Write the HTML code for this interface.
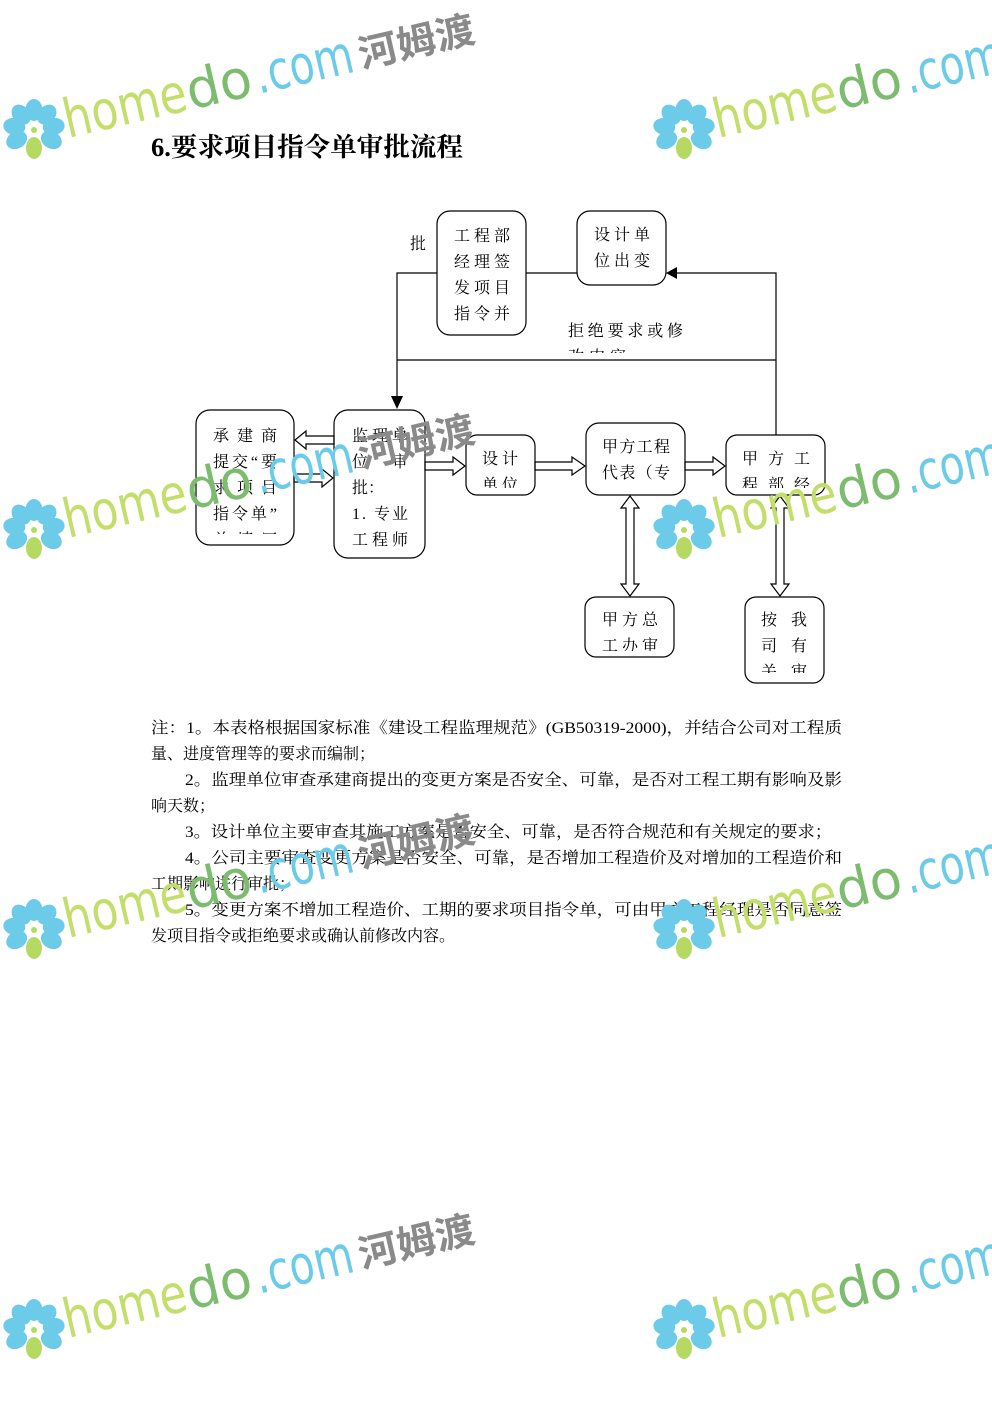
<!DOCTYPE html>
<html><head><meta charset="utf-8"><style>
html,body{margin:0;padding:0;background:#fff}
svg{display:block}
text{font-family:"Liberation Serif","Noto Serif CJK SC","Noto Sans CJK SC",serif}
.wm text{font-family:"DejaVu Sans","Liberation Sans","Noto Sans CJK SC",sans-serif}
</style></head><body>
<svg width="992" height="1403" viewBox="0 0 992 1403" xmlns="http://www.w3.org/2000/svg">
<defs>
<g id="wm">
  <g transform="translate(34,130)">
    <ellipse cx="0" cy="-20" rx="8.5" ry="11" fill="#6ccbe8"/>
    <ellipse cx="0" cy="-20" rx="8.5" ry="11" fill="#6ccbe8" transform="rotate(40)"/>
    <ellipse cx="0" cy="-20" rx="8.5" ry="11" fill="#6ccbe8" transform="rotate(80)"/>
    <ellipse cx="0" cy="-20" rx="8.5" ry="11" fill="#6ccbe8" transform="rotate(120)"/>
    <ellipse cx="0" cy="-20" rx="8.5" ry="11" fill="#6ccbe8" transform="rotate(-40)"/>
    <ellipse cx="0" cy="-20" rx="8.5" ry="11" fill="#6ccbe8" transform="rotate(-80)"/>
    <ellipse cx="0" cy="-20" rx="8.5" ry="11" fill="#6ccbe8" transform="rotate(-120)"/>
    <ellipse cx="0" cy="18" rx="8" ry="11" fill="#b6d964"/>
    <circle cx="0" cy="0" r="3" fill="#b6d964"/>
  </g>
  <g class="wm" transform="translate(68,138) rotate(-13)">
    <text x="0" y="0" font-size="54" fill="#c3de6a" textLength="125" lengthAdjust="spacingAndGlyphs">home</text>
    <text x="126" y="0" font-size="54" fill="#7dbb6e" textLength="66" lengthAdjust="spacingAndGlyphs">do</text>
    <text x="196" y="0" font-size="54" fill="#6ccbe8" textLength="100" lengthAdjust="spacingAndGlyphs">.com</text>
    <text x="302" y="-2" font-size="38" font-weight="bold" fill="#8a8a8a" textLength="118" lengthAdjust="spacingAndGlyphs">河姆渡</text>
  </g>
</g>
<clipPath id="c1"><rect x="437" y="211" width="89" height="112"/></clipPath>
<clipPath id="c2"><rect x="577" y="211" width="89" height="74"/></clipPath>
<clipPath id="c3"><rect x="196" y="410" width="98" height="124"/></clipPath>
<clipPath id="c4"><rect x="466" y="435" width="69" height="53"/></clipPath>
<clipPath id="c5"><rect x="586" y="423" width="99" height="60"/></clipPath>
<clipPath id="c6"><rect x="726" y="435" width="99" height="53"/></clipPath>
<clipPath id="c7"><rect x="585" y="597" width="89" height="54"/></clipPath>
<clipPath id="c8"><rect x="745" y="597" width="79" height="76"/></clipPath>
<clipPath id="c9"><rect x="560" y="310" width="140" height="43"/></clipPath>
</defs>

<text x="151" y="156" font-size="26" font-weight="bold" fill="#000" textLength="312" lengthAdjust="spacingAndGlyphs">6.要求项目指令单审批流程</text>

<g stroke="#000" stroke-width="1.2" fill="none">
  <polyline points="437,273 397,273 397,398"/>
  <line x1="526" y1="273" x2="577" y2="273"/>
  <polyline points="776,435 776,273 676,273"/>
  <line x1="397" y1="360" x2="776" y2="360"/>
</g>
<polygon points="391,396 403,396 397,409" fill="#000"/>
<polygon points="677,267 677,279 666,273" fill="#000"/>

<g fill="#fff" stroke="#000" stroke-width="1.2">
  <polygon points="334,436 306,436 306,431 295,440 306,449 306,444 334,444"/>
  <polygon points="294,474 322,474 322,469 333,478 322,487 322,482 294,482"/>
  <polygon points="425,462 453,462 453,457 465,466 453,475 453,470 425,470"/>
  <polygon points="535,462 572,462 572,457 585,466 572,475 572,470 535,470"/>
  <polygon points="685,462 713,462 713,457 725,466 713,475 713,470 685,470"/>
  <polygon points="626,508 621,508 630,496 639,508 634,508 634,584 639,584 630,596 621,584 626,584"/>
  <polygon points="776,508 771,508 780,496 789,508 784,508 784,584 789,584 780,596 771,584 776,584"/>
</g>

<g fill="none" stroke="#000" stroke-width="1.2">
  <rect x="437" y="211" width="89" height="124" rx="13"/>
  <rect x="577" y="211" width="89" height="74" rx="13"/>
  <rect x="196" y="410" width="98" height="135" rx="14"/>
  <rect x="334" y="410" width="91" height="148" rx="14"/>
  <rect x="466" y="435" width="69" height="60" rx="11"/>
  <rect x="586" y="423" width="99" height="72" rx="13"/>
  <rect x="726" y="435" width="99" height="60" rx="11"/>
  <rect x="585" y="597" width="89" height="60" rx="11"/>
  <rect x="745" y="597" width="79" height="86" rx="11"/>
</g>

<g font-size="16" fill="#000">
  <text x="410" y="249">批</text>
  <g clip-path="url(#c1)">
    <text x="454" y="241" textLength="56">工程部</text>
    <text x="454" y="267" textLength="56">经理签</text>
    <text x="454" y="293" textLength="56">发项目</text>
    <text x="454" y="319" textLength="56">指令并</text>
  </g>
  <g clip-path="url(#c2)">
    <text x="594" y="240" textLength="56">设计单</text>
    <text x="594" y="266" textLength="56">位出变</text>
  </g>
  <g clip-path="url(#c9)">
    <text x="568" y="336" textLength="115">拒绝要求或修</text>
    <text x="568" y="362" textLength="58">改内容</text>
  </g>
  <g clip-path="url(#c3)">
    <text x="213" y="441" textLength="64">承建商</text>
    <text x="213" y="467" textLength="64">提交“要</text>
    <text x="213" y="493" textLength="64">求项目</text>
    <text x="213" y="519" textLength="64">指令单”</text>
    <text x="213" y="545" textLength="64">并填写</text>
  </g>
  <text x="352" y="441" textLength="56">监理单</text>
  <text x="352" y="467">位</text><text x="392" y="467">审</text>
  <text x="352" y="493">批：</text>
  <text x="352" y="519" textLength="56">1. 专业</text>
  <text x="352" y="545" textLength="56">工程师</text>
  <g clip-path="url(#c4)">
    <text x="482" y="464" textLength="36">设计</text>
    <text x="482" y="490" textLength="36">单位</text>
  </g>
  <g clip-path="url(#c5)">
    <text x="602" y="452" textLength="68">甲方工程</text>
    <text x="602" y="478" textLength="68">代表（专</text>
  </g>
  <g clip-path="url(#c6)">
    <text x="742" y="464" textLength="68">甲方工</text>
    <text x="742" y="490" textLength="68">程部经</text>
  </g>
  <g clip-path="url(#c7)">
    <text x="602" y="625" textLength="56">甲方总</text>
    <text x="602" y="651" textLength="56">工办审</text>
  </g>
  <g clip-path="url(#c8)">
    <text x="761" y="625">按</text><text x="791" y="625">我</text>
    <text x="761" y="651">司</text><text x="791" y="651">有</text>
    <text x="761" y="677">关</text><text x="791" y="677">审</text>
  </g>
</g>

<g font-size="16" fill="#000">
  <text x="151" y="733" textLength="691" lengthAdjust="spacingAndGlyphs">注：1。本表格根据国家标准《建设工程监理规范》(GB50319-2000)，并结合公司对工程质</text>
  <text x="151" y="759">量、进度管理等的要求而编制；</text>
  <text x="185" y="785" textLength="657" lengthAdjust="spacingAndGlyphs">2。监理单位审查承建商提出的变更方案是否安全、可靠，是否对工程工期有影响及影</text>
  <text x="151" y="811">响天数；</text>
  <text x="185" y="837" textLength="647" lengthAdjust="spacingAndGlyphs">3。设计单位主要审查其施工方案是否安全、可靠，是否符合规范和有关规定的要求；</text>
  <text x="185" y="863" textLength="657" lengthAdjust="spacingAndGlyphs">4。公司主要审查变更方案是否安全、可靠，是否增加工程造价及对增加的工程造价和</text>
  <text x="151" y="889">工期影响进行审批；</text>
  <text x="185" y="915" textLength="657" lengthAdjust="spacingAndGlyphs">5。变更方案不增加工程造价、工期的要求项目指令单，可由甲方工程经理是否同意签</text>
  <text x="151" y="941">发项目指令或拒绝要求或确认前修改内容。</text>
</g>

<use href="#wm" x="0" y="0"/>
<use href="#wm" x="650" y="0"/>
<use href="#wm" x="0" y="400"/>
<use href="#wm" x="650" y="400"/>
<use href="#wm" x="0" y="800"/>
<use href="#wm" x="650" y="800"/>
<use href="#wm" x="0" y="1200"/>
<use href="#wm" x="650" y="1200"/>
</svg>
</body></html>
